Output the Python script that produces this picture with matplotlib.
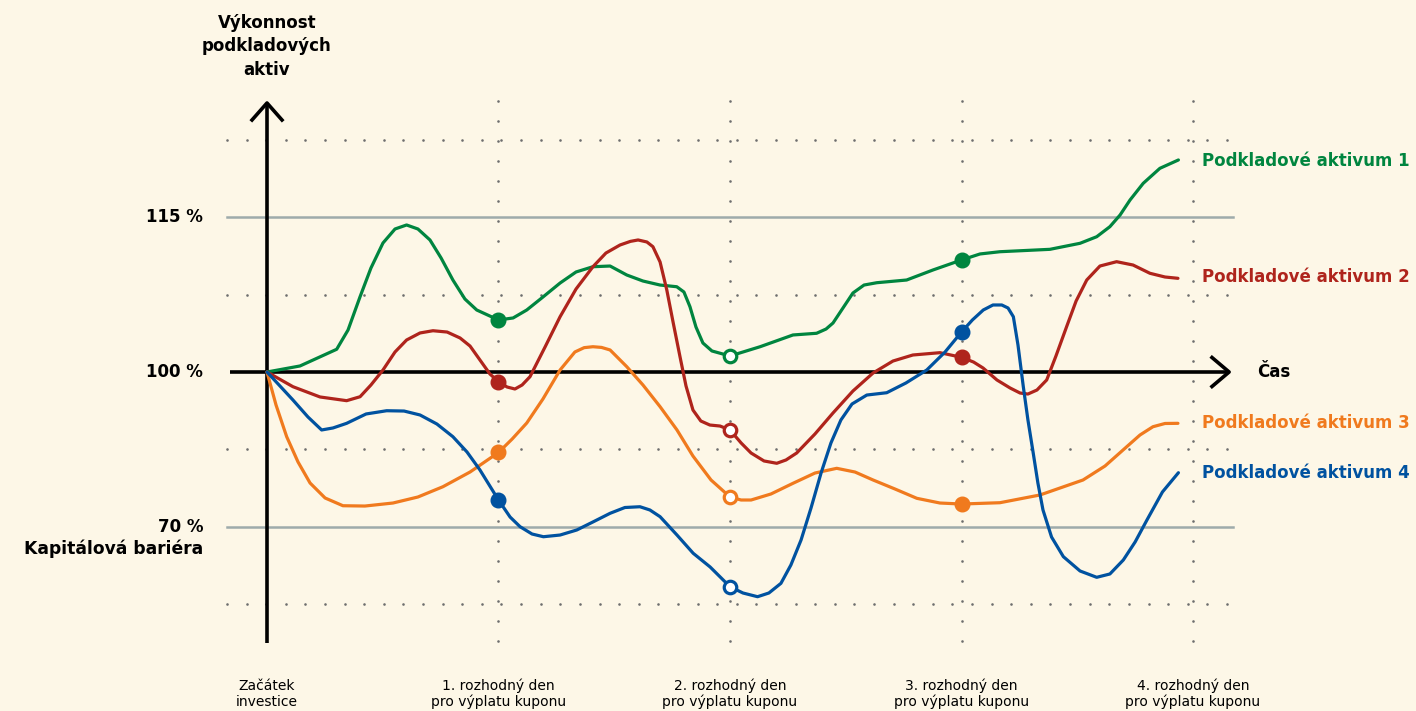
import numpy as np
import matplotlib
matplotlib.use("Agg")
import matplotlib.pyplot as plt

# x: time in coupon periods (0 = start, 1..4 = decision days)
# y: schematic performance level, 0 = 100 %, +2 = 115 %, -2 = 70 % (barrier)
green_x = [0, 0.1425, 0.301, 0.350, 0.402, 0.449, 0.501, 0.553, 0.603, 0.652, 0.704, 0.752,
           0.803, 0.855, 0.906, 1.0, 1.063, 1.122, 1.192, 1.266, 1.335, 1.408, 1.482, 1.554,
           1.624, 1.698, 1.770, 1.801, 1.827, 1.853, 1.883, 1.922, 2.0, 2.130, 2.272, 2.374,
           2.415, 2.445, 2.488, 2.531, 2.579, 2.634, 2.763, 2.877, 3.0, 3.080, 3.166, 3.382,
           3.512, 3.584, 3.641, 3.685, 3.728, 3.785, 3.857, 3.937]
green_y = [0, 0.078, 0.294, 0.543, 0.974, 1.345, 1.669, 1.850, 1.902, 1.850, 1.708, 1.475,
           1.190, 0.944, 0.802, 0.673, 0.699, 0.802, 0.970, 1.151, 1.294, 1.362, 1.371, 1.255,
           1.177, 1.125, 1.103, 1.035, 0.845, 0.582, 0.375, 0.272, 0.207, 0.327, 0.479, 0.501,
           0.556, 0.634, 0.828, 1.022, 1.125, 1.155, 1.190, 1.320, 1.449, 1.527, 1.556, 1.587,
           1.665, 1.750, 1.880, 2.031, 2.225, 2.441, 2.635, 2.743]

red_x = [0, 0.112, 0.229, 0.344, 0.402, 0.449, 0.501, 0.553, 0.603, 0.661, 0.717, 0.778,
         0.834, 0.877, 0.920, 0.963, 1.0, 1.037, 1.071, 1.102, 1.136, 1.201, 1.266, 1.335,
         1.408, 1.464, 1.525, 1.570, 1.603, 1.641, 1.667, 1.698, 1.727, 1.754, 1.784, 1.810, 1.840,
         1.874, 1.913, 1.957, 2.0, 2.048, 2.091, 2.147, 2.202, 2.242, 2.288, 2.367, 2.445,
         2.531, 2.618, 2.704, 2.790, 2.907, 3.0, 3.052, 3.093, 3.153, 3.210, 3.253, 3.287,
         3.326, 3.368, 3.408, 3.454, 3.495, 3.541, 3.598, 3.670, 3.741, 3.814, 3.879, 3.935]
red_y = [0, -0.190, -0.323, -0.371, -0.320, -0.168, 0.026, 0.259, 0.414, 0.505, 0.534, 0.517,
         0.440, 0.336, 0.155, -0.026, -0.125, -0.194, -0.220, -0.168, -0.061, 0.323, 0.715, 1.074,
         1.362, 1.539, 1.643, 1.690, 1.708, 1.682, 1.621, 1.423, 1.061, 0.647, 0.198, -0.181, -0.492,
         -0.634, -0.686, -0.699, -0.750, -0.918, -1.048, -1.151, -1.181, -1.138, -1.048, -0.802, -0.530,
         -0.246, -0.013, 0.142, 0.220, 0.250, 0.190, 0.129, 0.052, -0.103, -0.207, -0.272, -0.285,
         -0.233, -0.103, 0.207, 0.586, 0.918, 1.190, 1.371, 1.427, 1.384, 1.277, 1.229, 1.212]

orange_x = [0, 0.039, 0.085, 0.134, 0.186, 0.251, 0.328, 0.423, 0.544, 0.652, 0.760, 0.877,
            1.0, 1.059, 1.122, 1.192, 1.266, 1.330, 1.370, 1.408, 1.445, 1.482, 1.554, 1.624, 1.698, 1.771,
            1.840, 1.918, 2.0, 2.048, 2.091, 2.177, 2.272, 2.367, 2.461, 2.540, 2.618, 2.713,
            2.807, 2.907, 3.0, 3.166, 3.339, 3.525, 3.620, 3.714, 3.771, 3.827, 3.879, 3.935]
orange_y = [0, -0.427, -0.837, -1.164, -1.436, -1.630, -1.730, -1.734, -1.695, -1.617, -1.484, -1.294,
            -1.041, -0.867, -0.660, -0.349, 0.026, 0.259, 0.315, 0.327, 0.318, 0.285, 0.069, -0.168, -0.449, -0.750,
            -1.087, -1.397, -1.617, -1.656, -1.656, -1.578, -1.440, -1.307, -1.246, -1.294, -1.397, -1.514,
            -1.634, -1.695, -1.708, -1.691, -1.591, -1.397, -1.216, -0.966, -0.815, -0.708, -0.666, -0.664]

blue_x = [0, 0.112, 0.177, 0.236, 0.285, 0.344, 0.428, 0.517, 0.592, 0.661, 0.734, 0.803,
          0.864, 0.920, 1.0, 1.050, 1.093, 1.145, 1.194, 1.266, 1.338, 1.408, 1.482, 1.546,
          1.611, 1.654, 1.698, 1.771, 1.841, 1.914, 2.0, 2.056, 2.119, 2.168, 2.220, 2.263,
          2.307, 2.350, 2.393, 2.436, 2.479, 2.527, 2.591, 2.677, 2.760, 2.850, 2.929, 3.0,
          3.047, 3.094, 3.136, 3.174, 3.201, 3.224, 3.244, 3.267, 3.287, 3.310, 3.330, 3.352,
          3.389, 3.440, 3.512, 3.584, 3.641, 3.699, 3.750, 3.801, 3.868, 3.937]
blue_y = [0, -0.362, -0.582, -0.750, -0.724, -0.664, -0.543, -0.501, -0.505, -0.556, -0.673, -0.837,
          -1.035, -1.268, -1.656, -1.876, -2.001, -2.096, -2.131, -2.109, -2.044, -1.940, -1.828, -1.753,
          -1.743, -1.785, -1.872, -2.109, -2.345, -2.522, -2.778, -2.859, -2.907, -2.859, -2.734, -2.497,
          -2.173, -1.759, -1.310, -0.918, -0.621, -0.414, -0.298, -0.268, -0.142, 0.026, 0.259, 0.517,
          0.673, 0.802, 0.867, 0.867, 0.828, 0.715, 0.349, -0.190, -0.621, -1.052, -1.436, -1.785,
          -2.135, -2.389, -2.574, -2.656, -2.613, -2.432, -2.199, -1.915, -1.552, -1.303]

series_names = ["Podkladové aktivum 1", "Podkladové aktivum 2",
                "Podkladové aktivum 3", "Podkladové aktivum 4"]
colors = ["#00853F", "#AF241C", "#F07A1E", "#0052A0"]
label_y = [2.730, 1.229, -0.660, -1.307]

level_ticks = [2, 0, -2]
level_labels = ["115 %", "100 %", "70 %"]
day_ticks = [0, 1, 2, 3, 4]
day_labels = ["Začátek\ninvestice",
              "1. rozhodný den\npro výplatu kuponu",
              "2. rozhodný den\npro výplatu kuponu",
              "3. rozhodný den\npro výplatu kuponu",
              "4. rozhodný den\npro výplatu kuponu"]
filled_days = [1, 3]
open_days = [2]

bg = "#FDF7E7"
plt.rcParams['font.family'] = ['DejaVu Sans']

fig = plt.figure(figsize=(14.16, 7.11), dpi=100, facecolor=bg)
ax = fig.add_axes([0, 0, 1, 1])
ax.set_facecolor(bg)
ax.set_xlim(-267 / 231.5, (1416 - 267) / 231.5)
ax.set_ylim(-(711 - 372) / 77.3, 372 / 77.3)
ax.axis("off")

# dotted grid
dot_c = "#6E6E6E"
gx = np.arange(-0.173, 4.18, 0.0847)
for yy in [3, 1, -1, -3]:
    ax.scatter(gx, np.full_like(gx, yy), s=3.5, color=dot_c, lw=0, zorder=1)
gy = np.arange(3.50, -3.56, -0.2587)
for xx in day_ticks[1:]:
    ax.scatter(np.full_like(gy, xx), gy, s=3.5, color=dot_c, lw=0, zorder=1)

# 115 % and barrier lines
for yy in [2, -2]:
    ax.plot([-0.173, 4.173], [yy, yy], color="#9EABAB", lw=1.8, zorder=1.5)

# axes arrows
ax.plot([0, 0], [-3.502, 3.47], color="black", lw=2.6, solid_capstyle="butt", zorder=2)
ax.plot([-0.0648, 0, 0.0648], [3.26, 3.48, 3.26], color="black", lw=2.6, zorder=2)
ax.plot([-0.160, 4.15], [0, 0], color="black", lw=2.6, solid_capstyle="butt", zorder=2)
ax.plot([4.082, 4.156, 4.082], [0.1876, 0, -0.1876], color="black", lw=2.6, zorder=2)

xs = [green_x, red_x, orange_x, blue_x]
ys = [green_y, red_y, orange_y, blue_y]
for x, y, c, name, ly in zip(xs, ys, colors, series_names, label_y):
    x = np.array(x)
    y = np.array(y)
    ax.plot(x, y, color=c, lw=2.3, solid_joinstyle="round", solid_capstyle="round", zorder=3)
    m = np.isin(x, filled_days)
    ax.plot(x[m], y[m], "o", ms=10.5, color=c, mec=c, zorder=4)
    m = np.isin(x, open_days)
    ax.plot(x[m], y[m], "o", ms=9, mfc="white", mec=c, mew=2.3, zorder=4)
    ax.text(4.039, ly, name, color=c, fontsize=12, fontweight="bold",
            ha="left", va="center")

ax.text(4.276, 0, "Čas", fontsize=12, fontweight="bold", ha="left", va="center")
ax.text(0, 4.211, "Výkonnost\npodkladových\naktiv", fontsize=12, fontweight="bold",
        ha="center", va="center", linespacing=1.4)
for t, lab in zip(level_ticks, level_labels):
    ax.text(-0.276, t, lab, fontsize=12, fontweight="bold", ha="right", va="center")
ax.text(-0.276, -2.29, "Kapitálová bariéra", fontsize=12.3, fontweight="bold",
        ha="right", va="center")
for t, lab in zip(day_ticks, day_labels):
    ax.text(t, -4.166, lab, fontsize=10, ha="center", va="center", linespacing=1.15)

fig.savefig("out.png", dpi=100, facecolor=bg)
